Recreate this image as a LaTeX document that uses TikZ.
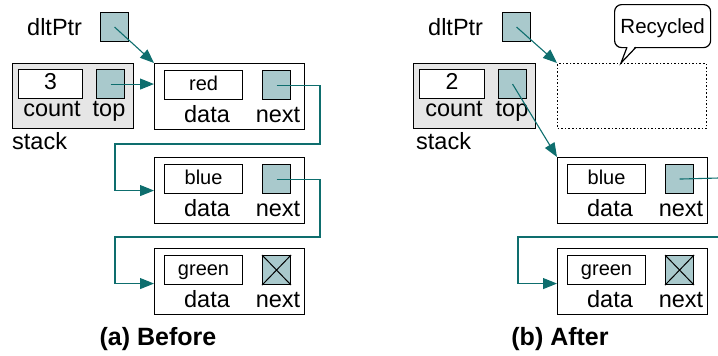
\documentclass[tikz,border=0pt]{standalone}
\usepackage{fontspec}
\setmainfont{Liberation Sans}
\usetikzlibrary{arrows.meta,calc}
\definecolor{tealc}{HTML}{0E6E6E}
\definecolor{ptrfill}{HTML}{A9C9CC}
\definecolor{stackfill}{HTML}{E6E6E6}
\newcommand\lnode[4]{%
  \node[nodebox, anchor=north west] (#1) at (#2,#3) {};
  \node[field, anchor=north west] (#1d) at ($(#1.north west)+(10,7)$) {#4};
  \node[ptrbox, anchor=north west] (#1n) at ($(#1.north west)+(108,7)$) {};
  \node[lbl] (#1dl) at ($(#1.north west)+(53,50.5)$) {data};
  \node[lbl] (#1nl) at ($(#1.north west)+(124,50.5)$) {next};
}
\begin{document}
\begin{tikzpicture}[x=1pt,y=-1pt,
  nodebox/.style={draw, line width=1.1, minimum width=150, minimum height=66, inner sep=0},
  field/.style={draw, line width=1.1, fill=white, minimum width=78, minimum height=29, inner sep=0,
    font=\fontsize{20}{22}\selectfont, text height=14, text depth=4},
  ptrbox/.style={draw, line width=1.1, fill=ptrfill, minimum width=28, minimum height=29, inner sep=0},
  lbl/.style={inner sep=0, font=\fontsize{23.5}{26}\selectfont, text height=17, text depth=0},
  link/.style={draw=tealc, line width=1.1, -{Triangle[length=14,width=11]}},
  plain/.style={draw=tealc, line width=1.1},
  captxt/.style={inner sep=0, font=\fontsize{25}{28}\selectfont\bfseries}]
\useasboundingbox (0,0) rectangle (718,356);
\clip (0,0) rectangle (718,356);

% ---------------- (a) Before ----------------
\node[lbl, anchor=west] (dlA) at (27,26.5) {dltPtr};
\node[ptrbox, anchor=north west] (dA) at (100,12) {};
\node[draw, line width=1.1, fill=stackfill, minimum width=121, minimum height=65, inner sep=0, anchor=north west] (stA) at (12,63) {};
\node[field, anchor=north west, minimum width=64, font=\fontsize{23}{25}\selectfont] (cntA) at (18,69) {3};
\node[ptrbox, anchor=north west] (topA) at (96,69) {};
\node[lbl] (cntlA) at (52,107.5) {count};
\node[lbl] (toplA) at (109,107.5) {top};
\node[lbl, anchor=west] (stlA) at (12,140.5) {stack};

\lnode{rA}{154}{63}{red}
\lnode{bA}{154}{157}{blue}
\lnode{gA}{154}{248}{green}
\draw[line width=1] (gAn.north west) -- (gAn.south east) (gAn.north east) -- (gAn.south west);

\draw[link] (dA.center) -- (rA.north west);
\draw[link] (topA.center) -- (topA.center -| rA.west);
\coordinate (a1) at (320,144);
\coordinate (a2) at (115,144);
\draw[link] (rAn.center) -| (a1) -- (a2) |- (bA.west);
\coordinate (b1) at (320,237);
\coordinate (b2) at (115,237);
\draw[link] (bAn.center) -| (b1) -- (b2) |- ($(gA.west)+(0,2)$);

\node[captxt] (capA) at (158,339) {(a) Before};

% ---------------- (b) After ----------------
\node[lbl, anchor=west] (dlB) at (428,26.5) {dltPtr};
\node[ptrbox, anchor=north west] (dB) at (502,12) {};
\node[draw, line width=1.1, fill=stackfill, minimum width=122, minimum height=65, inner sep=0, anchor=north west] (stB) at (413,63) {};
\node[field, anchor=north west, minimum width=65, font=\fontsize{23}{25}\selectfont] (cntB) at (419,69) {2};
\node[ptrbox, anchor=north west] (topB) at (498,69) {};
\node[lbl] (cntlB) at (454,107.5) {count};
\node[lbl] (toplB) at (512,107.5) {top};
\node[lbl, anchor=west] (stlB) at (416,140.5) {stack};

\node[draw, line width=1.1, dash pattern=on 1.6 off 2, minimum width=149, minimum height=65, inner sep=0, anchor=north west] (recB) at (557,63) {};

\node[draw, line width=1.2, rounded corners=7, fill=white, minimum width=96, minimum height=43, inner sep=0, anchor=north west,
  font=\fontsize{20.5}{22}\selectfont, text height=17, text depth=2] (callB) at (614,4) {Recycled};
\coordinate (tip) at (621,63);
\fill[white] (627.6,46) -- (tip) -- (635.4,46) -- cycle;
\draw[line width=1.2, line join=miter] (627,47.2) -- (tip) -- (636,47.2);

\lnode{bB}{557}{157}{blue}
\lnode{gB}{557}{248}{green}
\draw[line width=1] (gBn.north west) -- (gBn.south east) (gBn.north east) -- (gBn.south west);

\draw[link] (dB.center) -- (recB.north west);
\draw[link] (topB.center) -- (bB.north west);
\coordinate (e1) at (719,178);
\draw[plain] (bBn.center) -- (e1);
\coordinate (e2) at (719,237);
\coordinate (e3) at (518,237);
\draw[link] (e2) -- (e3) |- ($(gB.west)+(0,2)$);

\node[captxt] (capB) at (560,339) {(b) After};
\end{tikzpicture}
\end{document}
